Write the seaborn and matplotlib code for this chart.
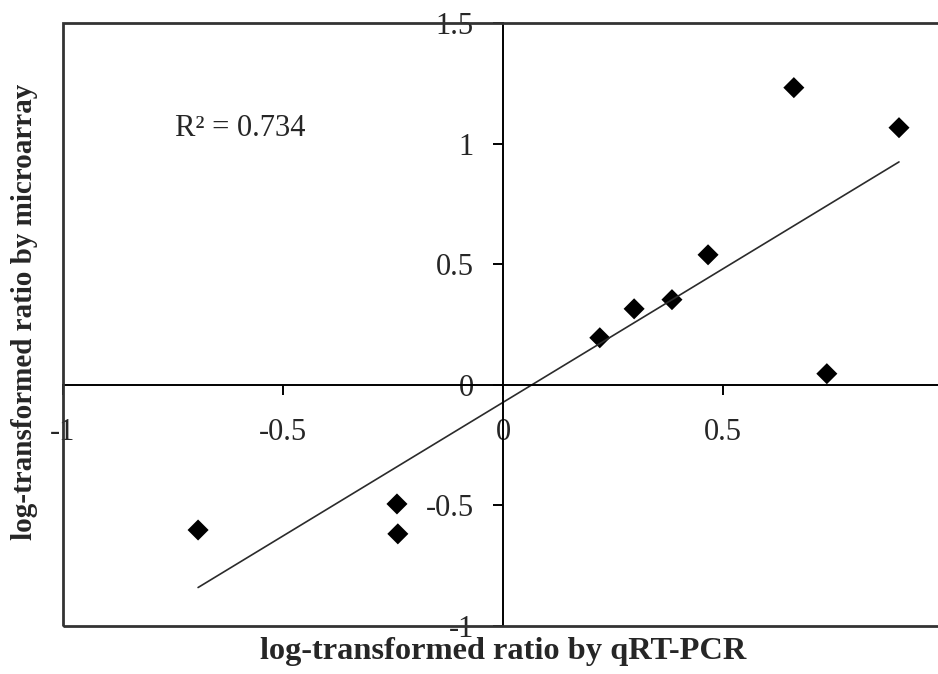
import pandas as pd
import seaborn as sns
import matplotlib.pyplot as plt
from matplotlib.patches import Rectangle

# log ratios
qrt_pcr = [-0.693, -0.241, -0.239, 0.220, 0.298, 0.384, 0.466, 0.661, 0.736, 0.900]
microarray = [-0.602, -0.494, -0.618, 0.195, 0.315, 0.353, 0.539, 1.232, 0.046, 1.066]
r_squared = 0.734

x_ticks = [-1, -0.5, 0, 0.5, 1]
x_tick_labels = ['-1', '-0.5', '0', '0.5', '1']
y_ticks = [-1, -0.5, 0, 0.5, 1, 1.5]
y_tick_labels = ['-1', '-0.5', '0', '0.5', '1', '1.5']

df = pd.DataFrame({'qrt_pcr': qrt_pcr, 'microarray': microarray})

sns.set_style('white')
plt.rcParams['font.family'] = ['Liberation Serif', 'DejaVu Serif']

fig = plt.figure(figsize=(9.38, 6.74), dpi=100)
ax = fig.add_axes([63 / 938, 48 / 674, 880 / 938, 603 / 674])

sns.regplot(
    data=df, x='qrt_pcr', y='microarray', ax=ax, ci=None, marker='D',
    scatter_kws=dict(color='black', s=115, edgecolors='none', alpha=1),
    line_kws=dict(color='#2b2b2b', lw=1.2),
)

ax.set_xlim(-1, 1)
ax.set_ylim(-1, 1.5)

# axes cross at the origin, frame drawn separately
for side in ['left', 'bottom']:
    ax.spines[side].set_position('zero')
    ax.spines[side].set_color('black')
    ax.spines[side].set_linewidth(1.4)
ax.spines['top'].set_visible(False)
ax.spines['right'].set_visible(False)
ax.add_patch(Rectangle((0, 0), 1, 1, transform=ax.transAxes, fill=False,
                       ec='#333333', lw=2, clip_on=False, zorder=5))

ax.set_xticks(x_ticks, x_tick_labels)
ax.set_yticks(y_ticks, y_tick_labels)
ax.tick_params(axis='x', direction='out', length=7, width=1.4, color='black',
               labelsize=22, pad=17, bottom=True)
ax.tick_params(axis='y', direction='out', length=7, width=1.4, color='black',
               labelsize=22, pad=14, left=True)

ax.set_xlabel('')
ax.set_ylabel('')
fig.text(503 / 938, 1 - 652 / 674, 'log-transformed ratio by qRT-PCR',
         ha='center', va='center', fontsize=23.3, fontweight='bold')
fig.text(25 / 938, 1 - 312 / 674, 'log-transformed ratio by microarray',
         ha='center', va='center', rotation=90, fontsize=21, fontweight='bold')

ax.text(-0.745, 1.062, f'R² = {r_squared}', ha='left', va='center', fontsize=22)

plt.savefig('out.png', dpi=100)
